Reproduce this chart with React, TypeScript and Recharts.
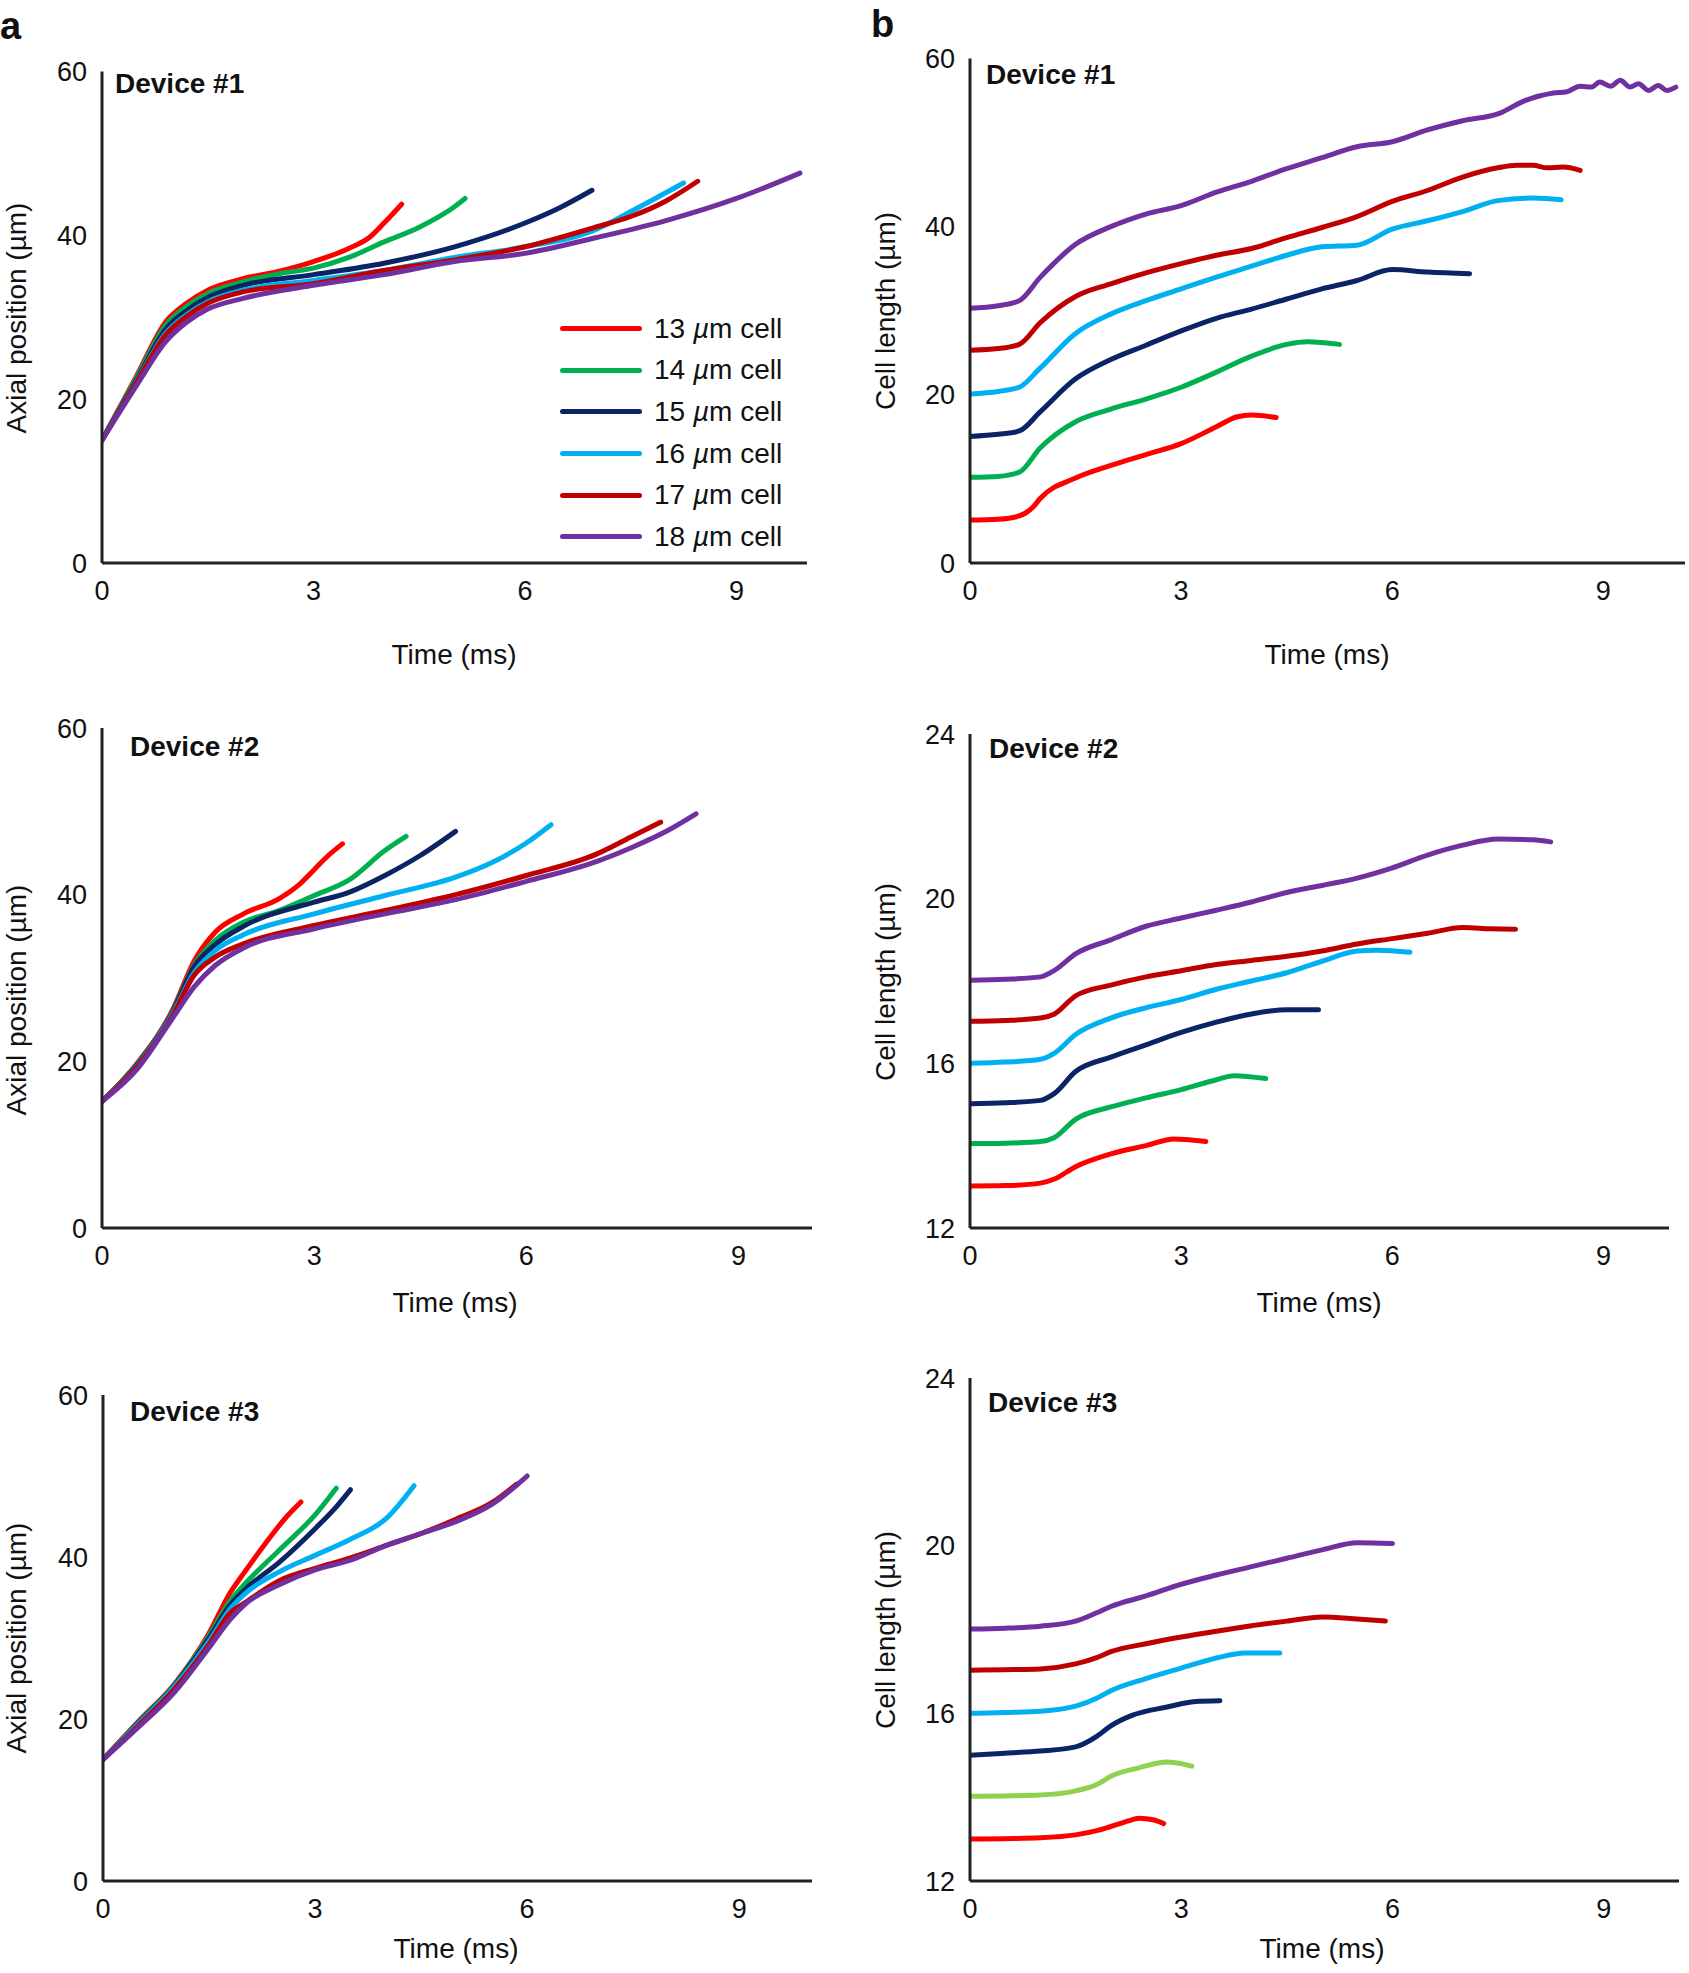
import React from "react";
import { LineChart, Line, XAxis, YAxis, Legend, Customized } from "recharts";

const FONT = '"Liberation Sans", Arial, Helvetica, sans-serif';
const AXIS = "#222222";

const cellSizes = ["13", "14", "15", "16", "17", "18"];
const cellColors = ["#ff0000", "#00b050", "#0b2466", "#00b0f0", "#c00000", "#7030a0"];
const dev3LengthColors = ["#ff0000", "#92d050", "#0b2466", "#00b0f0", "#c00000", "#7030a0"];
const timeTicks = [0, 3, 6, 9];
const axialTicks = [0, 20, 40, 60];
const lengthTicks1 = [0, 20, 40, 60];
const lengthTicks23 = [12, 16, 20, 24];

// [time (ms), value (um)]
// Device #1, axial position
const d1Axial13 = [[0, 15], [0.5, 23], [0.9, 29.4], [1.2, 31.7], [1.5, 33.3], [2, 34.7], [2.5, 35.6], [3, 36.8], [3.5, 38.4], [3.8, 39.8], [4, 41.5], [4.25, 43.8]];
const d1Axial14 = [[0, 15], [0.5, 22.8], [0.9, 29], [1.2, 31.3], [1.5, 32.9], [2, 34.3], [2.5, 35.3], [3, 36], [3.5, 37.3], [4, 39.2], [4.5, 41], [5, 43.5], [5.15, 44.5]];
const d1Axial15 = [[0, 15], [0.5, 22.5], [0.9, 28.5], [1.2, 30.8], [1.5, 32.4], [2, 33.9], [3, 35.2], [4, 36.6], [5, 38.6], [6, 41.5], [6.5, 43.4], [6.95, 45.5]];
const d1Axial16 = [[0, 15], [0.5, 22.3], [0.9, 28], [1.2, 30.3], [1.5, 31.9], [2, 33.3], [3, 34.5], [4, 35.7], [5, 37.3], [6, 38.6], [7, 40.7], [7.5, 42.9], [8.25, 46.4]];
const d1Axial17 = [[0, 15], [0.5, 22.2], [0.9, 27.8], [1.2, 30.1], [1.5, 31.7], [2, 33.1], [3, 34.1], [4, 35.7], [5, 37], [6, 38.6], [7, 41], [7.5, 42.3], [8, 44.2], [8.45, 46.6]];
const d1Axial18 = [[0, 15], [0.5, 21.8], [0.9, 27], [1.2, 29.4], [1.5, 31], [2, 32.3], [3, 33.9], [4, 35.2], [5, 36.8], [6, 37.8], [7, 39.7], [8, 41.8], [9, 44.5], [9.9, 47.6]];

// Device #1, cell length
const d1Length13 = [[0, 5.1], [0.4, 5.2], [0.7, 5.6], [0.9, 6.7], [1, 7.7], [1.5, 10.1], [2, 11.6], [2.5, 12.9], [3, 14.2], [3.5, 16.2], [3.8, 17.4], [4, 17.6], [4.35, 17.3]];
const d1Length14 = [[0, 10.2], [0.4, 10.3], [0.7, 10.8], [1, 13.7], [1.5, 16.8], [2, 18.3], [2.5, 19.5], [3, 20.9], [3.5, 22.7], [4, 24.6], [4.5, 26], [4.8, 26.3], [5.25, 26]];
const d1Length15 = [[0, 15.05], [0.4, 15.3], [0.7, 15.7], [1, 18], [1.5, 21.9], [2, 24.2], [2.5, 25.9], [3, 27.6], [3.5, 29.1], [4, 30.2], [4.5, 31.4], [5, 32.6], [5.5, 33.6], [6, 34.9], [6.5, 34.6], [7.1, 34.4]];
const d1Length16 = [[0, 20.1], [0.4, 20.4], [0.7, 20.9], [1, 23.2], [1.5, 27.3], [2, 29.6], [2.5, 31.2], [3, 32.6], [3.5, 34], [4, 35.3], [4.5, 36.6], [5, 37.6], [5.5, 37.8], [6, 39.7], [6.5, 40.7], [7, 41.8], [7.5, 43.1], [8, 43.4], [8.4, 43.2]];
const d1Length17 = [[0, 25.3], [0.4, 25.5], [0.7, 26], [1, 28.6], [1.5, 31.7], [2, 33.2], [2.5, 34.5], [3, 35.6], [3.5, 36.6], [4, 37.4], [4.5, 38.7], [5, 39.9], [5.5, 41.2], [6, 43], [6.5, 44.3], [7, 45.9], [7.5, 47], [7.77, 47.3], [8, 47.3], [8.2, 47], [8.43, 47.1], [8.67, 46.7]];
const d1Length18 = [[0, 30.3], [0.4, 30.6], [0.7, 31.2], [1, 34], [1.5, 37.9], [2, 40], [2.5, 41.5], [3, 42.5], [3.5, 44.1], [4, 45.4], [4.5, 46.9], [5, 48.2], [5.5, 49.5], [6, 50.1], [6.5, 51.5], [7, 52.6], [7.53, 53.5], [7.86, 54.9], [8.29, 55.9], [8.48, 56.05], [8.67, 56.7], [8.83, 56.6], [8.95, 57.2], [9.1, 56.7], [9.24, 57.4], [9.38, 56.6], [9.5, 57], [9.64, 56.2], [9.78, 56.8], [9.9, 56.2], [10.03, 56.6]];

// Device #2, axial position
const d2Axial13 = [[0, 15.2], [0.5, 19.8], [1, 26.2], [1.3, 32], [1.6, 35.5], [2, 37.7], [2.5, 39.5], [2.8, 41.3], [3, 43], [3.2, 44.7], [3.4, 46.1]];
const d2Axial14 = [[0, 15.2], [0.5, 19.7], [1, 26], [1.3, 31.5], [1.6, 34.5], [2, 36.7], [2.5, 38.1], [3, 39.9], [3.5, 41.8], [4, 45.3], [4.3, 47]];
const d2Axial15 = [[0, 15.2], [0.5, 19.6], [1, 25.9], [1.3, 31.3], [1.6, 34], [2, 36.2], [3, 39.1], [3.5, 40.3], [4, 42.3], [4.5, 44.7], [5, 47.6]];
const d2Axial16 = [[0, 15.2], [0.5, 19.5], [1, 25.7], [1.3, 30.6], [1.6, 33.3], [2, 35.2], [3, 37.7], [4, 39.9], [5, 42.1], [5.5, 43.8], [6, 46.2], [6.35, 48.4]];
const d2Axial17 = [[0, 15.2], [0.5, 19.4], [1, 25.5], [1.3, 30.3], [1.6, 32.5], [2, 34.1], [3, 36.3], [4, 38.1], [5, 40], [6, 42.3], [7, 44.9], [7.5, 47], [7.9, 48.7]];
const d2Axial18 = [[0, 15.2], [0.5, 19.1], [1, 25.2], [1.3, 28.9], [1.6, 31.5], [2, 33.6], [3, 35.9], [4, 37.7], [5, 39.4], [6, 41.6], [7, 44], [7.5, 45.7], [8, 47.7], [8.4, 49.7]];

// Device #2, cell length
const d2Length13 = [[0, 13.02], [0.5, 13.03], [1, 13.09], [1.2, 13.19], [1.5, 13.49], [2, 13.8], [2.5, 14], [2.9, 14.16], [3.05, 14.15], [3.35, 14.1]];
const d2Length14 = [[0, 14.05], [0.5, 14.06], [1, 14.1], [1.2, 14.2], [1.5, 14.64], [2, 14.94], [2.5, 15.16], [3, 15.36], [3.5, 15.6], [3.75, 15.7], [4.2, 15.63]];
const d2Length15 = [[0, 15.02], [0.5, 15.04], [1, 15.1], [1.2, 15.27], [1.5, 15.8], [2, 16.15], [2.5, 16.45], [3, 16.75], [3.5, 17], [4, 17.2], [4.5, 17.3], [4.95, 17.3]];
const d2Length16 = [[0, 16], [0.5, 16.03], [1, 16.1], [1.2, 16.25], [1.5, 16.7], [2, 17.1], [2.5, 17.35], [3, 17.55], [3.5, 17.8], [4, 18], [4.5, 18.2], [5, 18.48], [5.5, 18.73], [5.8, 18.75], [6.25, 18.7]];
const d2Length17 = [[0, 17.02], [0.5, 17.04], [1, 17.1], [1.2, 17.2], [1.5, 17.64], [2, 17.9], [2.5, 18.1], [3, 18.25], [3.5, 18.4], [4, 18.5], [4.5, 18.6], [5, 18.73], [5.5, 18.9], [6, 19.03], [6.5, 19.16], [7, 19.3], [7.4, 19.27], [7.75, 19.26]];
const d2Length18 = [[0, 18.02], [0.5, 18.04], [1, 18.1], [1.2, 18.26], [1.5, 18.66], [2, 19], [2.5, 19.33], [3, 19.53], [3.5, 19.72], [4, 19.92], [4.5, 20.15], [5, 20.32], [5.5, 20.5], [6, 20.75], [6.5, 21.06], [7, 21.3], [7.5, 21.45], [8, 21.43], [8.25, 21.38]];

// Device #3, axial position
const d3Axial13 = [[0, 15], [0.5, 19.7], [1, 24.2], [1.5, 30.6], [1.8, 35.6], [2, 38.1], [2.3, 41.7], [2.6, 45], [2.8, 46.8]];
const d3Axial14 = [[0, 15], [0.5, 19.6], [1, 24.1], [1.5, 30.3], [1.8, 34.6], [2, 36.6], [2.5, 40.9], [3, 45.2], [3.3, 48.5]];
const d3Axial15 = [[0, 15], [0.5, 19.5], [1, 24], [1.5, 30], [1.8, 34.1], [2, 35.9], [2.5, 39.4], [3, 43.5], [3.3, 46.2], [3.5, 48.3]];
const d3Axial16 = [[0, 15], [0.5, 19.4], [1, 23.9], [1.5, 29.6], [1.8, 33.6], [2, 35.4], [2.5, 38.2], [3, 40.2], [3.5, 42.2], [4, 44.7], [4.4, 48.8]];
const d3Axial17 = [[0, 15], [0.5, 19.2], [1, 23.6], [1.5, 29.2], [1.8, 33.1], [2, 34.3], [2.5, 37.1], [3, 38.6], [3.5, 39.9], [4, 41.4], [4.5, 42.9], [5, 44.7], [5.5, 46.7], [5.85, 49]];
const d3Axial18 = [[0, 15], [0.5, 19], [1, 23.2], [1.5, 28.8], [1.8, 32.3], [2, 34.1], [2.5, 36.6], [3, 38.4], [3.5, 39.6], [4, 41.4], [4.5, 42.9], [5, 44.4], [5.5, 46.5], [6, 50]];

// Device #3, cell length
const d3Length13 = [[0, 13], [0.5, 13.01], [1, 13.03], [1.5, 13.1], [1.8, 13.2], [2, 13.3], [2.3, 13.46], [2.4, 13.5], [2.6, 13.46], [2.75, 13.37]];
const d3Length14 = [[0, 14.02], [0.5, 14.03], [1, 14.05], [1.5, 14.15], [1.8, 14.3], [2, 14.5], [2.4, 14.7], [2.8, 14.84], [3, 14.8], [3.15, 14.74]];
const d3Length15 = [[0, 15], [0.5, 15.05], [1, 15.1], [1.5, 15.2], [1.8, 15.45], [2, 15.7], [2.3, 15.95], [2.8, 16.15], [3.2, 16.28], [3.55, 16.3]];
const d3Length16 = [[0, 16], [0.5, 16.02], [1, 16.05], [1.5, 16.17], [1.8, 16.36], [2, 16.54], [2.5, 16.83], [3, 17.08], [3.5, 17.32], [3.9, 17.44], [4.4, 17.44]];
const d3Length17 = [[0, 17.03], [0.5, 17.04], [1, 17.06], [1.5, 17.18], [1.8, 17.33], [2, 17.47], [2.5, 17.66], [3, 17.82], [3.5, 17.96], [4, 18.09], [4.5, 18.2], [5, 18.3], [5.5, 18.25], [5.9, 18.2]];
const d3Length18 = [[0, 18.01], [0.5, 18.03], [1, 18.08], [1.5, 18.2], [1.8, 18.4], [2, 18.55], [2.5, 18.8], [3, 19.08], [3.5, 19.3], [4, 19.5], [4.5, 19.7], [5, 19.9], [5.5, 20.07], [6, 20.05]];

type Box = { left: number; top: number; w: number; h: number };
type Plot = { left: number; top: number; right: number; bottom: number };

interface PanelSpec {
  id: string;
  box: Box;
  plot: Plot;
  xMax: number;
  yDomain: [number, number];
  yTicks: number[];
  yTitle: string;
  yTitleAt: [number, number];
  xTitleAt: [number, number];
  device: string;
  deviceAt: [number, number];
  letter?: { text: string; x: number; y: number };
  series: number[][][];
  colors: string[];
  legend?: boolean;
}

const toPoints = (pairs: number[][]) => pairs.map(([t, v]) => ({ t, v }));

const panels: PanelSpec[] = [
  {
    id: "a1",
    box: { left: 0, top: 0, w: 845, h: 680 },
    plot: { left: 102, top: 71.5, right: 807, bottom: 563 },
    xMax: 10,
    yDomain: [0, 60],
    yTicks: axialTicks,
    yTitle: "Axial position (\u00b5m)",
    yTitleAt: [16, 318],
    xTitleAt: [454, 654],
    device: "Device #1",
    deviceAt: [115, 83],
    letter: { text: "a", x: 0, y: 39 },
    series: [d1Axial13, d1Axial14, d1Axial15, d1Axial16, d1Axial17, d1Axial18],
    colors: cellColors,
    legend: true,
  },
  {
    id: "b1",
    box: { left: 845, top: 0, w: 844, h: 680 },
    plot: { left: 970, top: 58.5, right: 1685, bottom: 563 },
    xMax: 10.16,
    yDomain: [0, 60],
    yTicks: lengthTicks1,
    yTitle: "Cell length (\u00b5m)",
    yTitleAt: [885, 311],
    xTitleAt: [1327, 654],
    device: "Device #1",
    deviceAt: [986, 74],
    letter: { text: "b", x: 871, y: 37 },
    series: [d1Length13, d1Length14, d1Length15, d1Length16, d1Length17, d1Length18],
    colors: cellColors,
  },
  {
    id: "a2",
    box: { left: 0, top: 680, w: 845, h: 650 },
    plot: { left: 102, top: 728, right: 812, bottom: 1228 },
    xMax: 10.04,
    yDomain: [0, 60],
    yTicks: axialTicks,
    yTitle: "Axial position (\u00b5m)",
    yTitleAt: [16, 1000],
    xTitleAt: [455, 1302],
    device: "Device #2",
    deviceAt: [130, 746],
    series: [d2Axial13, d2Axial14, d2Axial15, d2Axial16, d2Axial17, d2Axial18],
    colors: cellColors,
  },
  {
    id: "b2",
    box: { left: 845, top: 680, w: 844, h: 650 },
    plot: { left: 970, top: 734, right: 1669, bottom: 1228 },
    xMax: 9.93,
    yDomain: [12, 24],
    yTicks: lengthTicks23,
    yTitle: "Cell length (\u00b5m)",
    yTitleAt: [885, 982],
    xTitleAt: [1319, 1302],
    device: "Device #2",
    deviceAt: [989, 748],
    series: [d2Length13, d2Length14, d2Length15, d2Length16, d2Length17, d2Length18],
    colors: cellColors,
  },
  {
    id: "a3",
    box: { left: 0, top: 1330, w: 845, h: 643 },
    plot: { left: 103, top: 1395, right: 812, bottom: 1881 },
    xMax: 10.03,
    yDomain: [0, 60],
    yTicks: axialTicks,
    yTitle: "Axial position (\u00b5m)",
    yTitleAt: [16, 1638],
    xTitleAt: [456, 1948],
    device: "Device #3",
    deviceAt: [130, 1411],
    series: [d3Axial13, d3Axial14, d3Axial15, d3Axial16, d3Axial17, d3Axial18],
    colors: cellColors,
  },
  {
    id: "b3",
    box: { left: 845, top: 1330, w: 844, h: 643 },
    plot: { left: 970, top: 1378, right: 1679, bottom: 1881 },
    xMax: 10.07,
    yDomain: [12, 24],
    yTicks: lengthTicks23,
    yTitle: "Cell length (\u00b5m)",
    yTitleAt: [885, 1630],
    xTitleAt: [1322, 1948],
    device: "Device #3",
    deviceAt: [988, 1402],
    series: [d3Length13, d3Length14, d3Length15, d3Length16, d3Length17, d3Length18],
    colors: dev3LengthColors,
  },
];

const tickStyle = { fontSize: 27, fill: "#111", fontFamily: FONT };

const LegendRows = () => (
  <div style={{ fontFamily: FONT, fontSize: 28, color: "#111" }}>
    {cellSizes.map((size, i) => (
      <div key={size} style={{ display: "flex", alignItems: "center", height: 41.6 }}>
        <span
          style={{
            display: "inline-block",
            width: 82,
            height: 5,
            borderRadius: 3,
            background: cellColors[i],
            marginRight: 12,
          }}
        />
        <span style={{ whiteSpace: "nowrap" }}>
          {size} <i>{"\u00b5"}</i>m cell
        </span>
      </div>
    ))}
  </div>
);

function Panel({ p }: { p: PanelSpec }) {
  const { box, plot } = p;
  const margin = {
    top: plot.top - box.top,
    right: box.left + box.w - plot.right,
    bottom: 0,
    left: 0,
  };
  const yAxisWidth = plot.left - box.left;
  const xAxisHeight = box.top + box.h - plot.bottom;
  const rx = (x: number) => x - box.left;
  const ry = (y: number) => y - box.top;

  const Texts = () => (
    <g fontFamily={FONT} fill="#111">
      <text
        x={rx(p.yTitleAt[0])}
        y={ry(p.yTitleAt[1])}
        fontSize={28}
        textAnchor="middle"
        dominantBaseline="central"
        transform={`rotate(-90 ${rx(p.yTitleAt[0])} ${ry(p.yTitleAt[1])})`}
      >
        {p.yTitle}
      </text>
      <text
        x={rx(p.xTitleAt[0])}
        y={ry(p.xTitleAt[1])}
        fontSize={28}
        textAnchor="middle"
        dominantBaseline="central"
      >
        Time (ms)
      </text>
      <text
        x={rx(p.deviceAt[0])}
        y={ry(p.deviceAt[1])}
        fontSize={28}
        fontWeight="bold"
        dominantBaseline="central"
      >
        {p.device}
      </text>
      {p.letter && (
        <text x={rx(p.letter.x)} y={ry(p.letter.y)} fontSize={38} fontWeight="bold">
          {p.letter.text}
        </text>
      )}
    </g>
  );

  return (
    <div style={{ position: "absolute", left: box.left, top: box.top, width: box.w, height: box.h }}>
      <LineChart width={box.w} height={box.h} margin={margin}>
        <XAxis
          type="number"
          dataKey="t"
          domain={[0, p.xMax]}
          ticks={timeTicks}
          interval={0}
          allowDataOverflow
          height={xAxisHeight}
          tickLine={false}
          tickSize={0}
          tickMargin={18}
          axisLine={{ stroke: AXIS, strokeWidth: 3 }}
          tick={tickStyle}
        />
        <YAxis
          type="number"
          domain={p.yDomain}
          ticks={p.yTicks}
          interval={0}
          allowDataOverflow
          width={yAxisWidth}
          tickLine={false}
          tickSize={0}
          tickMargin={15}
          axisLine={{ stroke: AXIS, strokeWidth: 3 }}
          tick={tickStyle}
        />
        {p.series.map((s, i) => (
          <Line
            key={`${p.id}-${cellSizes[i]}`}
            data={toPoints(s)}
            dataKey="v"
            name={`${cellSizes[i]} \u00b5m cell`}
            type="monotone"
            stroke={p.colors[i]}
            strokeWidth={5}
            strokeLinecap="round"
            dot={false}
            activeDot={false}
            isAnimationActive={false}
          />
        ))}
        <Customized component={<Texts />} />
        {p.legend && (
          <Legend
            layout="vertical"
            align="center"
            verticalAlign="middle"
            content={() => <LegendRows />}
            wrapperStyle={{ left: 560, top: 308, width: 250, height: 250 }}
          />
        )}
      </LineChart>
    </div>
  );
}

export default function App() {
  return (
    <div
      style={{
        position: "absolute",
        left: 0,
        top: 0,
        width: 1689,
        height: 1973,
        background: "#fff",
        fontFamily: FONT,
      }}
    >
      {panels.map((p) => (
        <Panel key={p.id} p={p} />
      ))}
    </div>
  );
}
